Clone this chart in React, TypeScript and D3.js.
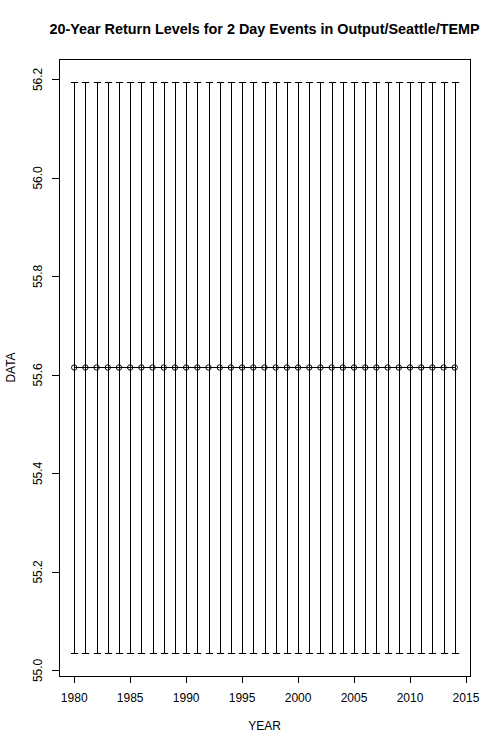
import React from 'react';
import * as d3 from 'd3';

// 20-year return levels, one per year, with lower / upper confidence bounds
const years = d3.range(1980, 2015);
const returnLevel = years.map(() => 55.615);
const lowerBound = years.map(() => 55.035);
const upperBound = years.map(() => 56.195);

const xTicks = [1980, 1985, 1990, 1995, 2000, 2005, 2010, 2015];
const yTicks = [55.0, 55.2, 55.4, 55.6, 55.8, 56.0, 56.2];

const W = 500;
const H = 750;
const margin = { top: 59, right: 30, bottom: 74, left: 59 };

const App = () => {
  const x0 = margin.left;
  const x1 = W - margin.right;
  const y0 = H - margin.bottom;
  const y1 = margin.top;

  // R style: pad the data range by 4% on each side
  const xPad = (d3.max(years)! - d3.min(years)!) * 0.04;
  const xScale = d3.scaleLinear()
    .domain([d3.min(years)! - xPad, d3.max(years)! + xPad])
    .range([x0, x1]);

  const lo = d3.min(lowerBound)!;
  const hi = d3.max(upperBound)!;
  const yPad = (hi - lo) * 0.04;
  const yScale = d3.scaleLinear()
    .domain([lo - yPad, hi + yPad])
    .range([y0, y1]);

  const line = d3.line<number>()
    .x((_, i) => xScale(years[i]))
    .y(d => yScale(d));

  const font = 'Liberation Sans, Arial, Helvetica, sans-serif';
  const capHalf = 3.6;

  return (
    <svg width={W} height={H} style={{ display: 'block', position: 'absolute', left: 0, top: 0 }} fontFamily={font}>
      <rect width={W} height={H} fill="#fff" />

      <text x={(x0 + x1) / 2} y={34} textAnchor="middle" fontSize={14.4} fontWeight="bold">
        20-Year Return Levels for 2 Day Events in Output/Seattle/TEMP
      </text>

      {/* error bars */}
      <g stroke="#000" strokeWidth={1} fill="none">
        {years.map((yr, i) => {
          const cx = Math.round(xScale(yr)) + 0.5;
          const yl = Math.round(yScale(lowerBound[i])) + 0.5;
          const yu = Math.round(yScale(upperBound[i])) + 0.5;
          return (
            <g key={yr}>
              <line x1={cx} x2={cx} y1={yl} y2={yu} />
              <line x1={cx - capHalf} x2={cx + capHalf} y1={yu} y2={yu} />
              <line x1={cx - capHalf} x2={cx + capHalf} y1={yl} y2={yl} />
            </g>
          );
        })}
      </g>

      <path d={line(returnLevel)!} stroke="#000" strokeWidth={1} fill="none" />
      <g stroke="#000" strokeWidth={1} fill="none">
        {years.map((yr, i) => (
          <circle key={yr} cx={xScale(yr)} cy={yScale(returnLevel[i])} r={2.7} />
        ))}
      </g>

      {/* plot box */}
      <rect x={x0 + 0.5} y={y1 + 0.5} width={x1 - x0} height={y0 - y1} fill="none" stroke="#000" />

      {/* x axis */}
      <g stroke="#000">
        <line x1={Math.round(xScale(xTicks[0])) + 0.5} x2={Math.round(xScale(xTicks[xTicks.length - 1])) + 0.5} y1={y0 + 0.5} y2={y0 + 0.5} />
        {xTicks.map(t => (
          <line key={t} x1={Math.round(xScale(t)) + 0.5} x2={Math.round(xScale(t)) + 0.5} y1={y0} y2={y0 + 7} />
        ))}
      </g>
      {xTicks.map(t => (
        <text key={t} x={xScale(t)} y={702} textAnchor="middle" fontSize={12}>{t}</text>
      ))}
      <text x={(x0 + x1) / 2} y={730} textAnchor="middle" fontSize={12}>YEAR</text>

      {/* y axis */}
      <g stroke="#000">
        <line x1={x0 + 0.5} x2={x0 + 0.5} y1={Math.round(yScale(yTicks[0])) + 0.5} y2={Math.round(yScale(yTicks[yTicks.length - 1])) + 0.5} />
        {yTicks.map(t => (
          <line key={t} x1={x0 - 7} x2={x0} y1={Math.round(yScale(t)) + 0.5} y2={Math.round(yScale(t)) + 0.5} />
        ))}
      </g>
      {yTicks.map(t => (
        <text key={t} transform={`translate(42,${yScale(t)}) rotate(-90)`} textAnchor="middle" fontSize={12}>
          {t.toFixed(1)}
        </text>
      ))}
      <text transform={`translate(15,${(y0 + y1) / 2}) rotate(-90)`} textAnchor="middle" fontSize={12}>DATA</text>
    </svg>
  );
};

export default App;
